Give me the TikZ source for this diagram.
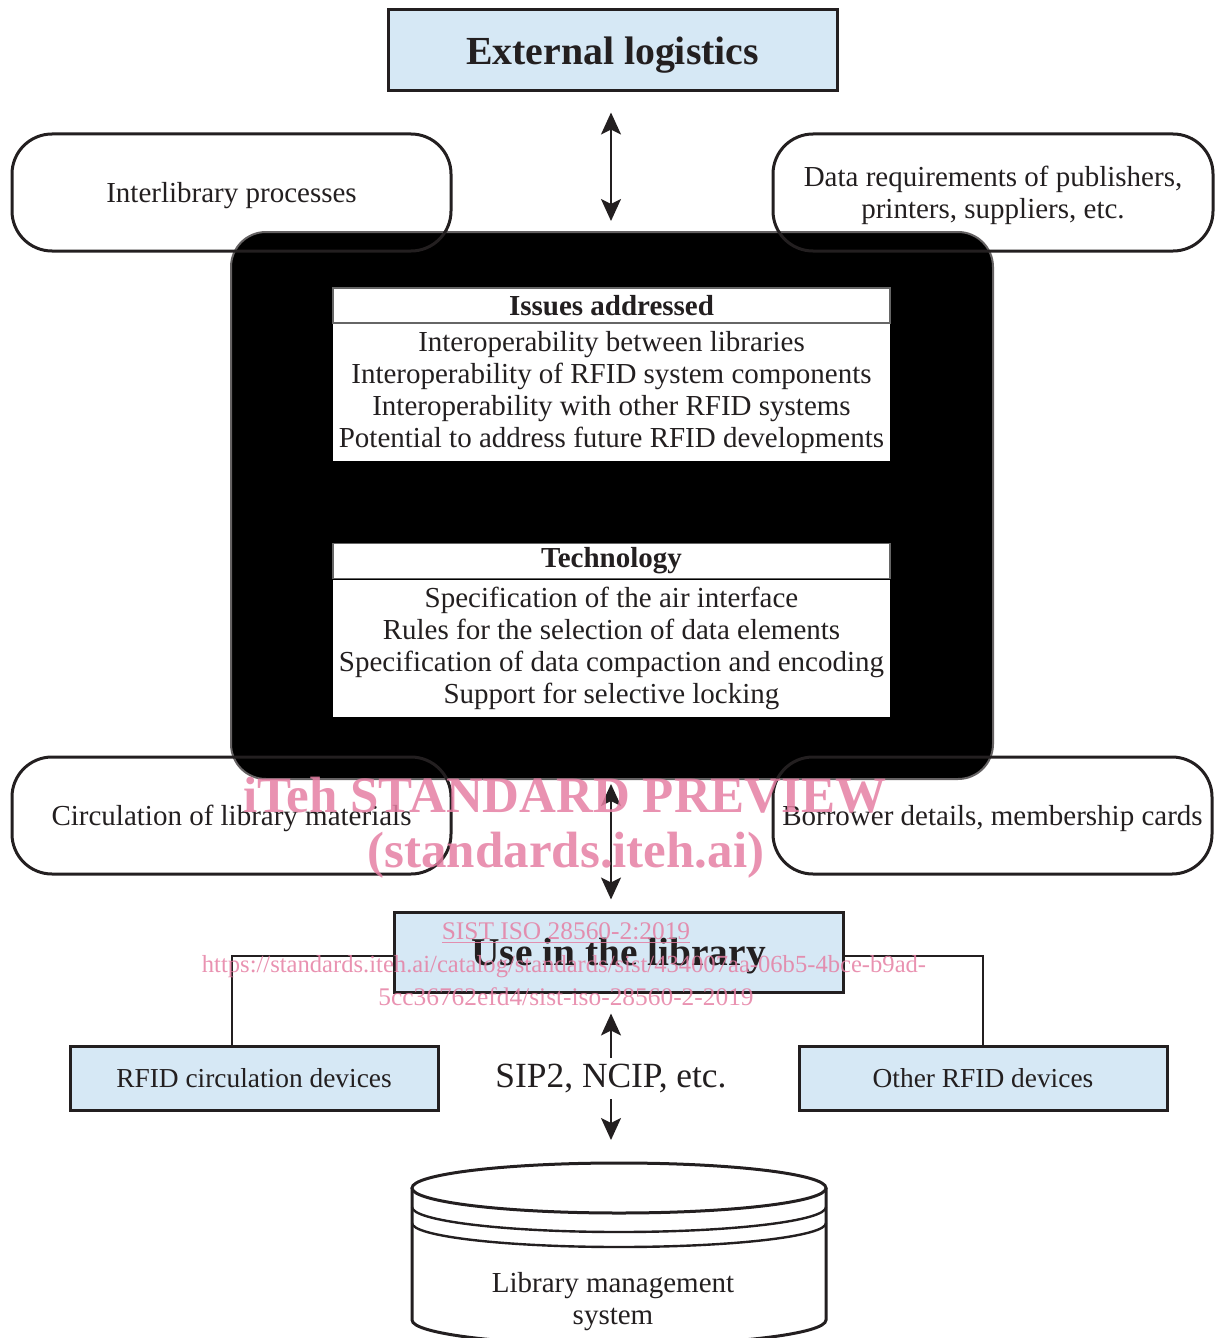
\documentclass[tikz,border=0pt]{standalone}
\usepackage{fontspec}
\setmainfont{Liberation Serif}
\usepackage{xcolor}
\usepackage{tikz}
\usetikzlibrary{positioning,arrows.meta}
\definecolor{B0}{HTML}{D6E8F5}
\definecolor{G0}{HTML}{231F20}
\definecolor{W0}{HTML}{E57FA3}

\begin{document}
\begin{tikzpicture}[x=0.5pt, y=-0.5pt,
  bluebox/.style={draw=G0, line width=1.5pt, fill=B0, text=G0, inner sep=0pt},
  roundbox/.style={draw=G0, line width=1.5pt, rounded corners=20pt, minimum width=219.5pt, minimum height=58.5pt, align=center, text=G0, font=\fontsize{14.5}{16}\selectfont},
  headbox/.style={draw=black!60, line width=0.6pt, fill=white, minimum width=278.5pt, minimum height=17.5pt, inner sep=0pt, text=G0, font=\bfseries\fontsize{14.5}{16}\selectfont},
  listbox/.style={fill=white, minimum width=278.5pt, minimum height=68.5pt, inner sep=0pt, align=center, text=G0, font=\fontsize{14.5}{16}\selectfont},
  dblarrow/.style={{Stealth[length=11pt,width=10pt,inset=2.5pt]}-{Stealth[length=11pt,width=10pt,inset=2.5pt]}, line width=1pt, draw=G0},
  wmark/.style={text=W0, opacity=0.85, inner sep=0pt}]%
\useasboundingbox (0,0) rectangle (1215,1338);%
\clip (0,0) rectangle (1215,1338);%
% top
\node[bluebox, minimum width=224.5pt, minimum height=40.5pt, text depth=0pt, font=\bfseries\fontsize{19.9}{22}\selectfont] (ext) at (612.5, 50.5) {External logistics};%
% core block
\node[fill=black, draw=G0!70, line width=1pt, rounded corners=17.5pt, minimum width=381pt, minimum height=273.5pt] (core) at (612, 505.5) {};%
\node[headbox] (issuesHead) at (611.5, 305.5) {Issues addressed};%
\node[listbox, below=0pt of issuesHead] (issuesList) {Interoperability between libraries\\Interoperability of RFID system components\\Interoperability with other RFID systems\\Potential to address future RFID developments};%
\node[headbox] (techHead) at (611.5, 561) {Technology};%
\node[listbox, below=0pt of techHead] (techList) {Specification of the air interface\\Rules for the selection of data elements\\Specification of data compaction and encoding\\Support for selective locking};%
% side boxes
\node[roundbox, text depth=0pt] (interLib) at (231.5, 192.5) {Interlibrary processes};%
\node[roundbox, minimum width=220pt, text depth=0pt] (dataReq) at (993, 192.5) {Data requirements of publishers,\\printers, suppliers, etc.};%
\node[roundbox, text depth=0pt] (circ) at (231.5, 815.5) {Circulation of library materials};%
\node[roundbox, text depth=0pt] (borrow) at (992.5, 815.5) {Borrower details, membership cards};%
% library
\node[bluebox, minimum width=224.5pt, minimum height=40pt, text depth=0pt, font=\bfseries\fontsize{19.7}{22}\selectfont] (use) at (618.5, 952) {Use in the library};%
\node[bluebox, minimum width=184pt, minimum height=32pt, font=\fontsize{13.7}{16}\selectfont] (rfidCirc) at (254, 1078) {RFID circulation devices};%
\node[bluebox, minimum width=184pt, minimum height=32pt, font=\fontsize{13.7}{16}\selectfont] (other) at (983, 1078) {Other RFID devices};%
\draw[G0, line width=1pt] ([yshift=-2pt]use.west) -| ([xshift=-11pt]rfidCirc.north);%
\draw[G0, line width=1pt] ([yshift=-2pt]use.east) -| (other.north);%
% database
\draw[G0, line width=1.5pt, fill=white] (412,1188) -- (412,1320) arc[start angle=180, end angle=360, x radius=103.5pt, y radius=12.5pt] -- (826,1188);%
\draw[G0, line width=1.5pt, fill=white] (619,1188) ellipse[x radius=103.5pt, y radius=12.5pt];%
\draw[G0, line width=1.2pt] (412,1207) arc[start angle=180, end angle=360, x radius=103.5pt, y radius=12.5pt];%
\draw[G0, line width=1.2pt] (412,1223) arc[start angle=180, end angle=360, x radius=103.5pt, y radius=12pt];%
\node[align=center, text=G0, font=\fontsize{14.5}{16}\selectfont] (lms) at (613, 1302) {Library management\\system};%
\coordinate (lmsTop) at (611, 1163);%
% arrows
\draw[dblarrow, shorten <=10pt, shorten >=5pt] (ext.south -| lmsTop) -- (core.north -| lmsTop);%
\draw[dblarrow, shorten <=2pt, shorten >=5.5pt] (core.south -| lmsTop) -- (use.north -| lmsTop);%
\draw[dblarrow, shorten <=10pt, shorten >=11.5pt] (use.south -| lmsTop) -- node[fill=white, inner sep=3pt, text=G0, font=\fontsize{17.7}{20}\selectfont] (sip) {SIP2, NCIP, etc.} (lmsTop);%
% watermark
\node[wmark, font=\bfseries\fontsize{25.5}{28}\selectfont] (wmTitle) at (565, 795) {iTeh STANDARD PREVIEW};%
\node[wmark, font=\bfseries\fontsize{25.5}{28}\selectfont] (wmSite) at (566, 855) {(standards.iteh.ai)};%
\node[wmark, font=\fontsize{12.7}{14}\selectfont] (wmCode) at (566, 933) {\underline{SIST ISO 28560-2:2019}};%
\node[wmark, font=\fontsize{12.3}{14}\selectfont] (wmUrl) at (564, 967) {https://standards.iteh.ai/catalog/standards/sist/434007aa-06b5-4bce-b9ad-};%
\node[wmark, font=\fontsize{12.7}{14}\selectfont] (wmUrlEnd) at (566, 997) {5cc36762efd4/sist-iso-28560-2-2019};%
\end{tikzpicture}
\end{document}
